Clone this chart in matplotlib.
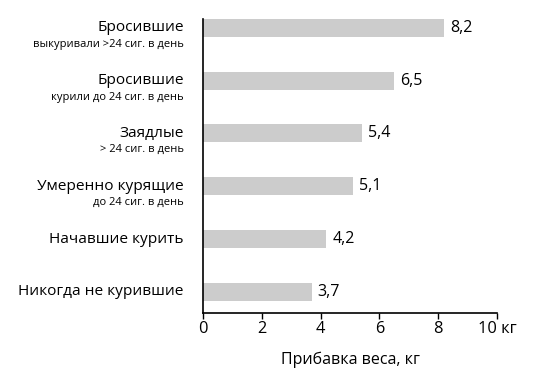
import matplotlib.pyplot as plt
plt.switch_backend("Agg")

plt.rcParams['font.family'] = ['Open Sans', 'DejaVu Sans']

# Data (top to bottom as in the chart)
groups = ['Бросившие', 'Бросившие', 'Заядлые', 'Умеренно курящие',
          'Начавшие курить', 'Никогда не курившие']
notes = ['выкуривали >24 сиг. в день', 'курили до 24 сиг. в день',
         '> 24 сиг. в день', 'до 24 сиг. в день', '', '']
gain = [8.2, 6.5, 5.4, 5.1, 4.2, 3.7]
ticks = [0, 2, 4, 6, 8, 10]
tick_labels = ['0', '2', '4', '6', '8', '10 кг']

fig = plt.figure(figsize=(5.41, 3.78), dpi=100)
ax = fig.add_axes([0.375, 0.172, 0.544, 0.778])

n = len(gain)
ypos = [n - 1 - i for i in range(n)]
ax.barh(ypos, gain, height=0.34, color='#cccccc')

for y, v in zip(ypos, gain):
    ax.text(v + 0.2, y, f'{v:.1f}'.replace('.', ','), va='center', ha='left',
            fontsize=11.5, color='black')

# category labels drawn as text so the small note can sit under the name
for y, g, note in zip(ypos, groups, notes):
    ax.text(-0.65, y, g, ha='right', va='center', fontsize=11.1,
            clip_on=False)
    if note:
        ax.text(-0.65, y - 0.31, note, ha='right', va='center', fontsize=8,
                clip_on=False)

ax.set_xlim(0, 10)
ax.set_ylim(-0.4, n - 1 + 0.17)
ax.set_yticks([])
ax.set_xticks(ticks)
ax.set_xticklabels(tick_labels, fontsize=11.8)
ax.tick_params(axis='x', direction='out', length=4, width=1, pad=2)
ax.spines['top'].set_visible(False)
ax.spines['right'].set_visible(False)
ax.spines['left'].set_linewidth(1.2)
ax.spines['bottom'].set_linewidth(1.2)
ax.set_xlabel('Прибавка веса, кг', fontsize=11.5, labelpad=10)

plt.savefig('out.png', dpi=100)
